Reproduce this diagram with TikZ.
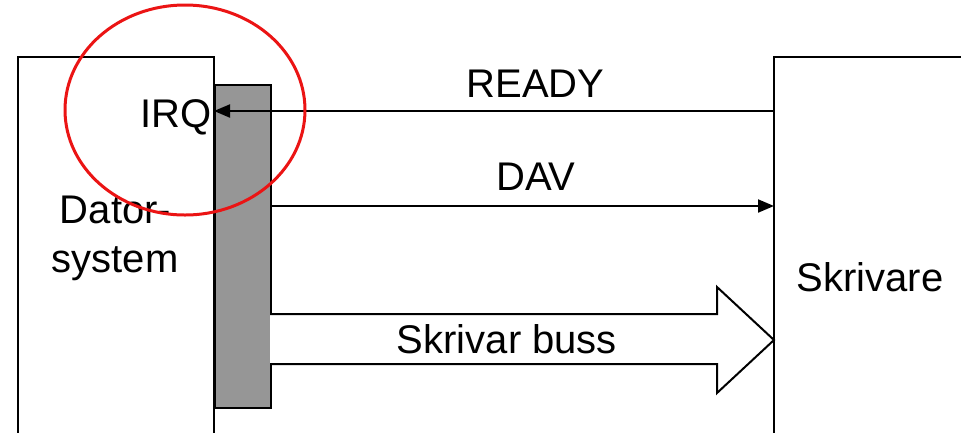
\documentclass[tikz,border=0pt]{standalone}
\usepackage{fontspec}
\setmainfont{Liberation Sans}
\usetikzlibrary{arrows.meta}
\definecolor{barGray}{RGB}{150,150,150}
\definecolor{ringRed}{RGB}{235,20,20}
\begin{document}
\begin{tikzpicture}[x=1pt,y=-1pt,
  boxline/.style={draw=black,line width=2pt},
  lbl/.style={font=\fontsize{40}{45}\selectfont,inner sep=0pt,anchor=base},
  sig/.style={line width=2pt,-{Triangle[length=16pt,width=13pt]}}]
\useasboundingbox (0,0) rectangle (961,432);
% boxes
\draw[boxline,fill=white] (18,460) coordinate (dl) -- (18,57) -- (214,57) -- (214,460);
\draw[boxline,fill=white] (774,460) -- (774,57) -- (990,57) -- (990,460);
\node[boxline,fill=barGray,minimum width=56pt,minimum height=323pt,inner sep=0pt,anchor=north west] (bar) at (214,84) {};
\coordinate (pl) at (774,111);
\coordinate (irq) at (214,111);
\coordinate (davs) at (270,206);
\coordinate (dave) at (774,206);
% texts
\node[lbl] (dator) at (115.5,223) {Dator-};
\node[lbl] (system) at (115,272) {system};
\node[lbl,anchor=base east] (irqt) at (212,127) {IRQ};
\node[lbl] (ready) at (535.5,97) {READY};
\node[lbl] (dav) at (536,190) {DAV};
\node[lbl] (skr) at (870,291) {Skrivare};
% signals
\draw[sig] (pl) -- (irq);
\draw[sig] (davs) -- (dave);
% bus arrow
\draw[line width=2pt,line join=miter,fill=white] (270,314) -- (717,314) -- (717,287) -- (774,340) -- (717,393) -- (717,364) -- (270,364);
\node[lbl] (bus) at (507,353) {Skrivar buss};
% red ring
\draw[ringRed,line width=3pt] (185,110) ellipse [x radius=120,y radius=105];
\end{tikzpicture}
\end{document}
